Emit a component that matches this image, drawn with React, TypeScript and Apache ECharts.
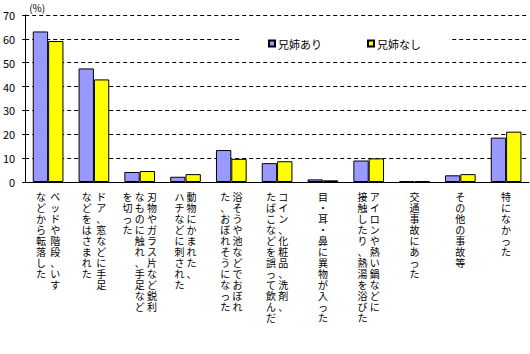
import React, { useEffect, useRef } from "react";
import * as echarts from "echarts";

// Each category label is written vertically; columns read right to left.
const categoryColumns: string[][] = [
  ["ベッドや階段、いす", "などから転落した"],
  ["ドア、窓などに手足", "などをはさまれた"],
  ["刃物やガラス片など鋭利", "なものに触れ、手足など", "を切った"],
  ["動物にかまれた、", "ハチなどに刺された"],
  ["浴そうや池などでおぼれ", "た、おぼれそうになった"],
  ["コイン、化粧品、洗剤、", "たばこなどを誤って飲んだ"],
  ["目・耳・鼻に異物が入った"],
  ["アイロンや熱い鍋などに", "接触したり、熱湯を浴びた"],
  ["交通事故にあった"],
  ["その他の事故等"],
  ["特になかった"],
];
const categories = categoryColumns.map((c) => c.join(""));
const wideColumnGap = [true, true, false, false, false, false, false, false, false, false, false];

const seriesNames = ["兄姉あり", "兄姉なし"];
const withSiblings = [63.1, 47.6, 4.2, 2.2, 13.4, 7.9, 1.1, 9.0, 0.3, 2.8, 18.6];
const withoutSiblings = [59.1, 43.0, 4.6, 3.3, 9.7, 8.7, 0.7, 9.9, 0.3, 3.3, 21.1];

const yMin = 0;
const yMax = 70;
const yInterval = 10;

const FONT = '"Noto Sans CJK JP", "Noto Sans", sans-serif';

function verticalLabel(index: number): string {
  const cols = categoryColumns[index];
  const rows = Math.max(...cols.map((c) => Array.from(c).length));
  const sep = wideColumnGap[index] ? "  " : " ";
  const lines: string[] = [];
  for (let r = 0; r < rows; r++) {
    const parts: string[] = [];
    for (let c = cols.length - 1; c >= 0; c--) {
      const chars = Array.from(cols[c]);
      parts.push(chars[r] ?? "\u3000");
    }
    lines.push(parts.join(sep));
  }
  return lines.join("\n");
}

export default function App() {
  const ref = useRef<HTMLDivElement>(null);
  useEffect(() => {
    if (!ref.current) return;
    const chart = echarts.init(ref.current, undefined, { renderer: "svg" });
    chart.setOption({
      animation: false,
      backgroundColor: "#ffffff",
      textStyle: { fontFamily: FONT },
      grid: { left: 21, right: 1, top: 15, bottom: 172, containLabel: false },
      legend: {
        data: seriesNames,
        left: 240,
        top: 36,
        padding: [2, 28, 2, 28],
        backgroundColor: "#ffffff",
        itemWidth: 6,
        itemHeight: 6,
        itemGap: 45,
        icon: "rect",
        textStyle: { fontSize: 11, color: "#000", fontFamily: FONT, padding: [0, 0, 0, -2] },
      },
      xAxis: {
        type: "category",
        data: categories,
        axisLine: { lineStyle: { color: "#000", width: 1 } },
        axisTick: { show: false },
        axisLabel: {
          interval: 0,
          margin: 9,
          fontSize: 10,
          lineHeight: 11,
          color: "#000",
          fontFamily: FONT,
          verticalAlign: "top",
          formatter: (_v: string, i: number) => verticalLabel(i),
        },
      },
      yAxis: {
        type: "value",
        min: yMin,
        max: yMax,
        interval: yInterval,
        name: "(%)",
        nameLocation: "end",
        nameGap: 3,
        nameTextStyle: { fontSize: 10, color: "#000", align: "left", padding: [0, 0, 0, 4], fontFamily: FONT },
        axisLine: { show: true, lineStyle: { color: "#000", width: 1 } },
        axisTick: { show: true, length: 3, lineStyle: { color: "#000" } },
        axisLabel: { fontSize: 11, color: "#000", margin: 10, fontFamily: FONT },
        splitLine: { show: true, lineStyle: { color: "#000", type: [4, 3], width: 1 } },
      },
      series: [
        {
          name: seriesNames[0],
          type: "bar",
          data: withSiblings,
          barGap: "0%",
          barCategoryGap: "33%",
          itemStyle: { color: "#9999FF", borderColor: "#000", borderWidth: 1 },
        },
        {
          name: seriesNames[1],
          type: "bar",
          data: withoutSiblings,
          barGap: "0%",
          barCategoryGap: "33%",
          itemStyle: { color: "#FFFF00", borderColor: "#000", borderWidth: 1 },
        },
      ],
    });
    return () => chart.dispose();
  }, []);
  return <div ref={ref} style={{ width: 530, height: 354, position: "absolute", left: 0, top: 0 }} />;
}
